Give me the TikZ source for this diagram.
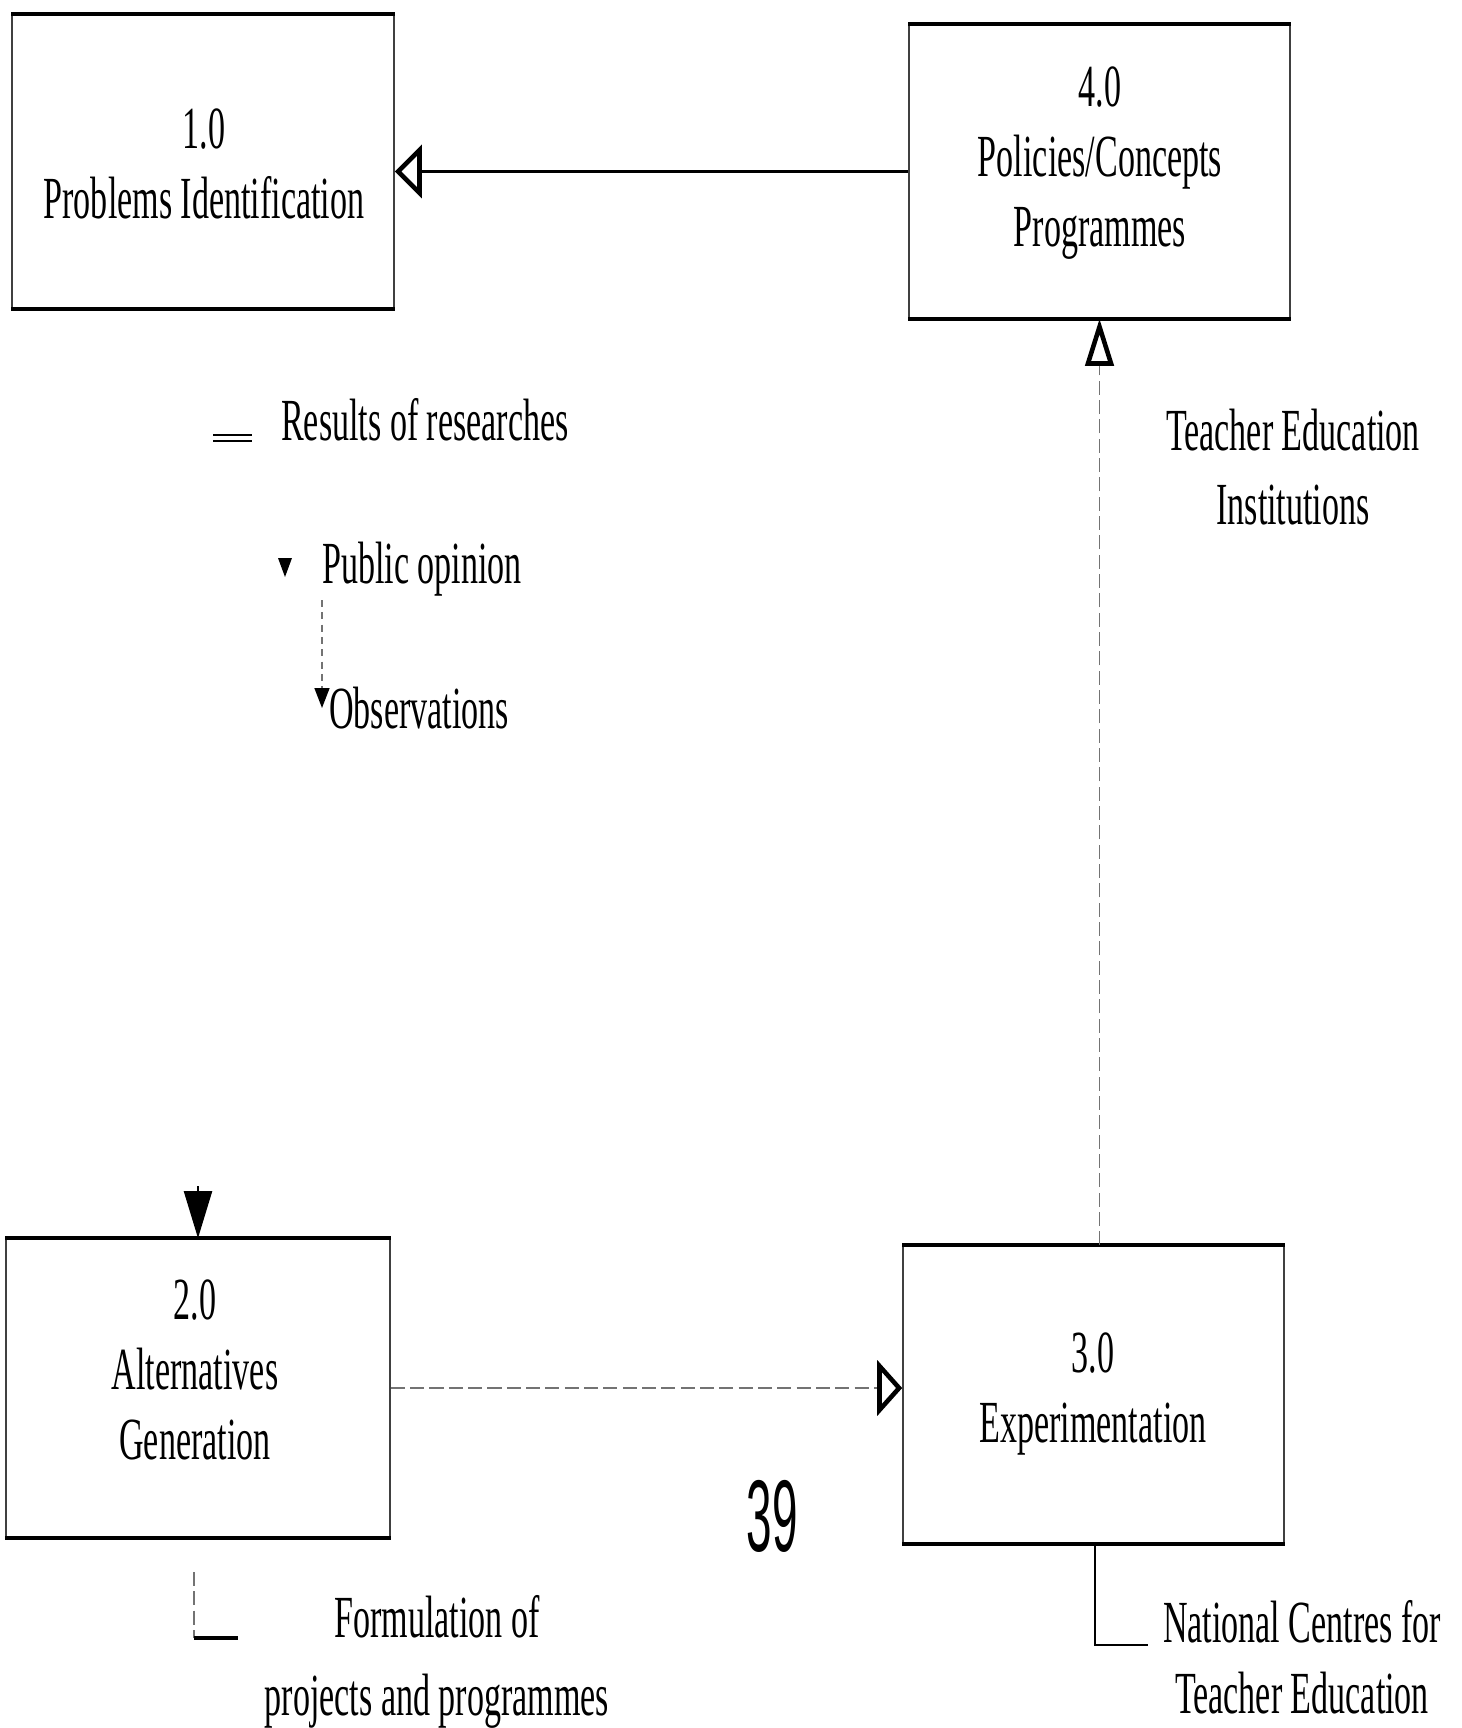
\documentclass[tikz,border=0pt]{standalone}
\usepackage{fontspec}
\setmainfont[FakeStretch=0.57]{Liberation Serif}
\newfontfamily\pagenumfont[FakeStretch=0.45]{Liberation Sans}
\usetikzlibrary{arrows.meta,fit}
\begin{document}
\begin{tikzpicture}[x=0.1mm,y=-0.1mm,
  proc/.style={draw=black!75, line width=0.45pt, inner sep=0pt},
  edge/.style={draw=black, line width=1.2pt},
  boxtxt/.style={font=\fontsize{17}{20}\selectfont, align=center, inner sep=0pt},
  lbl/.style={font=\fontsize{17}{21}\selectfont, align=center, inner sep=0pt},
  conn/.style={draw=black, line width=0.6pt},
  faint/.style={draw=black!55, line width=0.45pt, dash pattern=on 4pt off 1.5pt},
]
\useasboundingbox (0,0) rectangle (1461,1728);

% process boxes
\node[proc, fit={(12,15) (394,308)}] (b1) {};
\node[proc, fit={(909,25) (1290,318)}] (b4) {};
\node[proc, fit={(6,1239) (390,1537)}] (b2) {};
\node[proc, fit={(903,1246) (1284,1543)}] (b3) {};
\foreach \b in {b1,b2,b3,b4}{
  \draw[edge] (\b.north west) -- (\b.north east);
  \draw[edge] (\b.south west) -- (\b.south east);
}

% box texts
\node[boxtxt] (t1) at (204,164) {1.0\\Problems Identification};
\node[boxtxt] (t4) at (1100,163) {4.0\\Policies/Concepts\\Programmes};
\node[boxtxt] (t2) at (195,1370) {2.0\\Alternatives\\Generation};
\node[boxtxt] (t3) at (1093,1394) {3.0\\Experimentation};

% main connectors
\draw[conn, -{Triangle[open, length=2.7mm, width=5.3mm, line width=1.3pt]}]
  (b4.west) -- (b4.west -| b1.east);
\draw[faint, -{Triangle[open, color=black, length=4.7mm, width=2.8mm, line width=1.3pt]}]
  (b3.north -| b4.south) -- (b4.south);
\draw[faint, -{Triangle[open, color=black, length=2.5mm, width=5.5mm, line width=1.3pt]}]
  (b2.east) -- (b2.east -| b3.west);

% left column labels
\node[lbl] (res) at (425,420) {Results of researches};
\node[lbl] (pub) at (422,569) {Public opinion};
\node[lbl] (obs) at (419,708) {Observations};
\draw[conn, double, double distance=1.2pt, line width=0.5pt] (213,438) coordinate (r0) -- (252,438) coordinate (r1);
\fill[black] (278,558) -- (292,558) -- (285,577) -- cycle;
\coordinate (p0) at (322,600);
\draw[faint, dash pattern=on 2pt off 1.5pt, -{Triangle[color=black, length=2mm, width=1.5mm]}] (p0) -- (p0 |- obs.west);

% arrow into box 2
\coordinate (a2) at (198,1186);
\draw[conn, -{Triangle[length=4.7mm, width=2.8mm]}] (a2) -- (b2.north);

% right labels
\node[lbl, font=\fontsize{17}{21.3}\selectfont] (tei) at (1293,467) {Teacher Education\\Institutions};
\node[lbl, font=\fontsize{17}{20.3}\selectfont] (nct) at (1302,1657) {National Centres for\\Teacher Education};
\coordinate (n1) at (1095,1645);
\draw[conn] (b3.south -| n1) -- (n1) -- (1148,1645);

% bottom-left label
\node[lbl, font=\fontsize{17}{22}\selectfont] (form) at (437,1662) {Formulation of\\projects and programmes};
\coordinate (f0) at (194,1572);
\coordinate (f1) at (194,1638);
\draw[faint] (f0) -- (f1);
\draw[conn, line width=1pt] (f1) -- (238,1638);

% page number
\node[inner sep=0pt, font=\pagenumfont\fontsize{29}{29}\selectfont] (pg) at (772,1516) {39};
\end{tikzpicture}
\end{document}
